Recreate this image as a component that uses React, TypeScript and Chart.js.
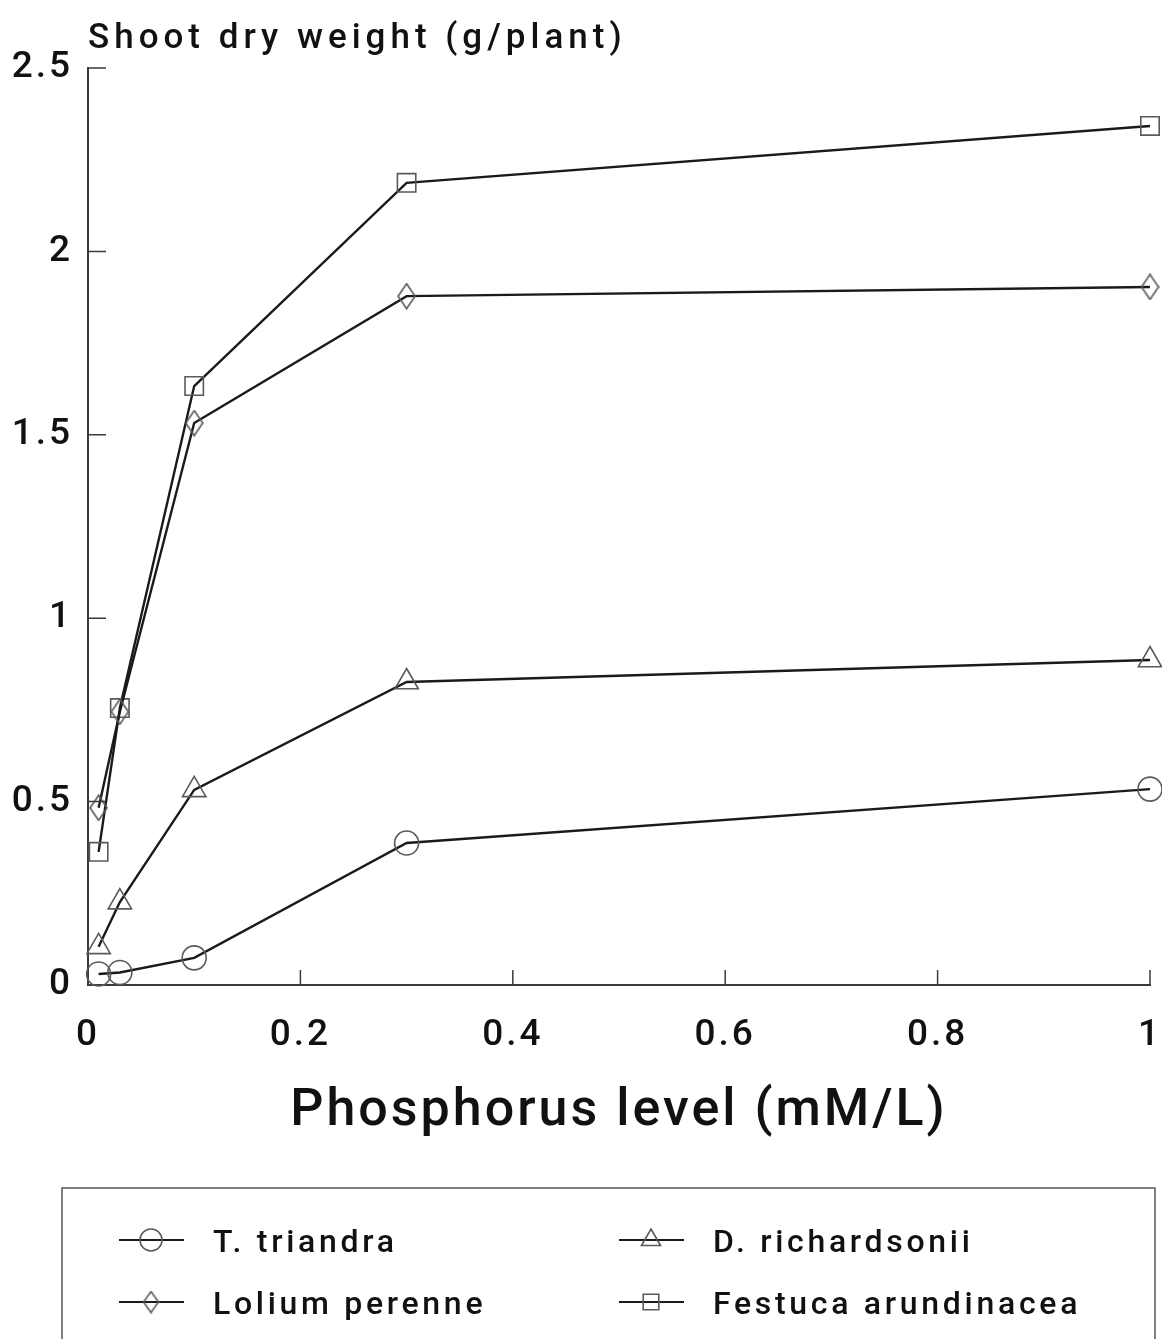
import React, { useEffect, useRef } from 'react';
import { Chart, registerables } from 'chart.js';

Chart.register(...registerables);

// ---- data ----
const phosphorus = [0.01, 0.03, 0.1, 0.3, 1];
const tTriandra = [0.03, 0.034, 0.074, 0.387, 0.534];
const dRichardsonii = [0.104, 0.226, 0.532, 0.826, 0.886];
const loliumPerenne = [0.483, 0.745, 1.532, 1.878, 1.903];
const festucaArundinacea = [0.363, 0.755, 1.633, 2.187, 2.342];
const seriesNames = ['T. triandra', 'D. richardsonii', 'Lolium perenne', 'Festuca arundinacea'];
const xTicks = [0, 0.2, 0.4, 0.6, 0.8, 1];
const yTicks = [0, 0.5, 1, 1.5, 2, 2.5];
const yTitle = 'Shoot dry weight (g/plant)';
const xTitle = 'Phosphorus level (mM/L)';

const FONT = 'Roboto, "Liberation Sans", Arial, sans-serif';
const TEXT = '#111111';
const AXIS = '#3a3a3a';
const LINE = '#1a1a1a';
const MARK = '#5a5a5a';

function makeDiamond(w: number, h: number): HTMLCanvasElement {
  const c = document.createElement('canvas');
  c.width = w;
  c.height = h;
  const g = c.getContext('2d')!;
  g.strokeStyle = MARK;
  g.lineWidth = 1.6;
  g.beginPath();
  g.moveTo(w / 2, 1);
  g.lineTo(w - 1, h / 2);
  g.lineTo(w / 2, h - 1);
  g.lineTo(1, h / 2);
  g.closePath();
  g.stroke();
  return c;
}

function drawMarker(ctx: CanvasRenderingContext2D, style: any, x: number, y: number, r: number) {
  ctx.save();
  ctx.strokeStyle = MARK;
  ctx.lineWidth = 1.6;
  ctx.beginPath();
  if (style === 'circle') {
    ctx.arc(x, y, r, 0, Math.PI * 2);
    ctx.stroke();
  } else if (style === 'triangle') {
    const w = r * Math.sin(Math.PI / 3);
    ctx.moveTo(x, y - r);
    ctx.lineTo(x + w, y + r / 2);
    ctx.lineTo(x - w, y + r / 2);
    ctx.closePath();
    ctx.stroke();
  } else if (style === 'rect') {
    const s = r * Math.SQRT1_2;
    ctx.rect(x - s, y - s, 2 * s, 2 * s);
    ctx.stroke();
  } else if (style instanceof HTMLCanvasElement) {
    ctx.drawImage(style, x - style.width / 2, y - style.height / 2);
  }
  ctx.restore();
}

export default function App() {
  const ref = useRef<HTMLCanvasElement>(null);

  useEffect(() => {
    const canvas = ref.current!;
    const diamond = makeDiamond(19, 27);
    const legendDiamond = makeDiamond(17, 23);
    const styles: any[] = ['circle', 'triangle', diamond, 'rect'];
    const radii = [12, 13.5, 12, 13];
    const values = [tTriandra, dRichardsonii, loliumPerenne, festucaArundinacea];

    const datasets = seriesNames.map((name, i) => ({
      label: name,
      data: phosphorus.map((x, j) => ({ x, y: values[i][j] })),
      showLine: true,
      borderColor: LINE,
      borderWidth: 2.4,
      tension: 0,
      pointStyle: styles[i],
      pointRadius: radii[i],
      pointBorderColor: MARK,
      pointBorderWidth: 1.6,
      pointBackgroundColor: 'rgba(0,0,0,0)',
      clip: false,
    }));

    const decor = {
      id: 'decor',
      beforeDraw(chart: any) {
        (chart.ctx as any).letterSpacing = '3px';
      },
      afterDraw(chart: any) {
        const { ctx, chartArea, scales } = chart;
        // inward ticks
        ctx.save();
        ctx.strokeStyle = AXIS;
        ctx.lineWidth = 1.5;
        ctx.beginPath();
        for (const v of yTicks) {
          if (v === 0) continue;
          const y = scales.y.getPixelForValue(v);
          ctx.moveTo(chartArea.left, y);
          ctx.lineTo(chartArea.left + 18, y);
        }
        for (const v of xTicks) {
          if (v === 0) continue;
          const x = scales.x.getPixelForValue(v);
          ctx.moveTo(x, chartArea.bottom);
          ctx.lineTo(x, chartArea.bottom - 15);
        }
        ctx.stroke();
        ctx.restore();

        // y title (top-left)
        ctx.save();
        (ctx as any).letterSpacing = '5px';
        ctx.fillStyle = TEXT;
        ctx.font = `500 35px ${FONT}`;
        ctx.textAlign = 'left';
        ctx.textBaseline = 'alphabetic';
        ctx.fillText(yTitle, chartArea.left, 48);
        ctx.restore();

        // legend box
        const boxL = 62;
        const boxR = 1155;
        const boxT = 1188;
        ctx.save();
        ctx.strokeStyle = '#555';
        ctx.lineWidth = 1.5;
        ctx.beginPath();
        ctx.moveTo(boxL, chart.height + 5);
        ctx.lineTo(boxL, boxT);
        ctx.lineTo(boxR, boxT);
        ctx.lineTo(boxR, chart.height + 5);
        ctx.stroke();
        ctx.restore();

        const cols = [119, 619];
        const rows = [1240, 1302];
        [0, 1, 2, 3].forEach((di, k) => {
          const ds = chart.data.datasets[di];
          const x0 = cols[k % 2];
          const y0 = rows[Math.floor(k / 2)];
          ctx.save();
          ctx.strokeStyle = LINE;
          ctx.lineWidth = 2;
          ctx.beginPath();
          ctx.moveTo(x0, y0);
          ctx.lineTo(x0 + 65, y0);
          ctx.stroke();
          ctx.restore();
          const st = ds.pointStyle instanceof HTMLCanvasElement ? legendDiamond : ds.pointStyle;
          drawMarker(ctx, st, x0 + 32, y0, 11);
          ctx.save();
          (ctx as any).letterSpacing = '3.7px';
          ctx.fillStyle = TEXT;
          ctx.font = `500 32px ${FONT}`;
          ctx.textAlign = 'left';
          ctx.textBaseline = 'alphabetic';
          ctx.fillText(ds.label, x0 + 94, y0 + 12);
          ctx.restore();
        });
      },
    };

    const chart = new Chart(canvas, {
      type: 'scatter',
      data: { datasets: datasets as any },
      options: {
        responsive: false,
        animation: false,
        events: [],
        layout: { autoPadding: false, padding: { top: 68, right: 12, bottom: 180, left: 0 } },
        plugins: {
          legend: { display: false },
          tooltip: { enabled: false },
          title: { display: false },
        },
        scales: {
          x: {
            type: 'linear',
            min: 0,
            max: 1,
            afterBuildTicks: (s: any) => {
              s.ticks = xTicks.map((v) => ({ value: v }));
            },
            afterFit: (s: any) => {
              s.height = 174;
              s.paddingLeft = 0;
              s.paddingRight = 0;
            },
            ticks: {
              autoSkip: false,
              maxRotation: 0,
              padding: 29,
              color: TEXT,
              font: { family: FONT, size: 37, weight: '500' },
              callback: (v: any) => String(v),
            },
            grid: { display: false, drawTicks: false },
            border: { display: true, color: AXIS, width: 2 },
            title: {
              display: true,
              text: xTitle,
              color: TEXT,
              font: { family: FONT, size: 52, weight: '500' },
              padding: { top: 0, bottom: 16 },
            },
          },
          y: {
            type: 'linear',
            min: 0,
            max: 2.5,
            afterBuildTicks: (s: any) => {
              s.ticks = yTicks.map((v) => ({ value: v }));
            },
            afterFit: (s: any) => {
              s.width = 88;
              s.paddingTop = 0;
              s.paddingBottom = 0;
            },
            ticks: {
              autoSkip: false,
              padding: 15,
              color: TEXT,
              font: { family: FONT, size: 37, weight: '500' },
              callback: (v: any) => String(v),
            },
            grid: { display: false, drawTicks: false },
            border: { display: true, color: AXIS, width: 2 },
          },
        },
      },
      plugins: [decor],
    });

    return () => chart.destroy();
  }, []);

  return (
    <div style={{ position: 'absolute', left: 0, top: 0, width: 1162, height: 1339, background: '#fff' }}>
      <canvas ref={ref} width={1162} height={1339} style={{ display: 'block' }} />
    </div>
  );
}
